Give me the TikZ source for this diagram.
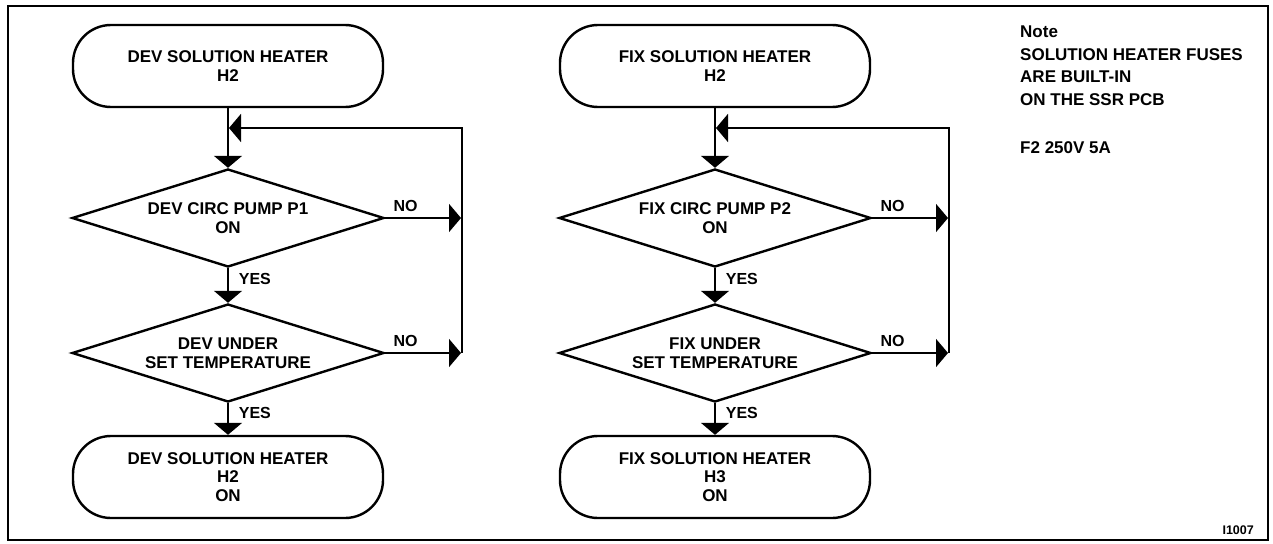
\documentclass[tikz,border=0pt]{standalone}
\usepackage{fontspec}
\setmainfont{Liberation Sans}
\usetikzlibrary{arrows.meta,shapes.geometric}
\begin{document}
\begin{tikzpicture}[x=1pt,y=-1pt,
  txt/.style={font=\fontsize{17}{18.5}\selectfont\bfseries},
  term/.style={draw,line width=2.4pt,rounded corners=38pt,minimum width=310pt,
    minimum height=82pt,align=center,inner sep=0pt,txt},
  dec/.style={draw,diamond,aspect=3.18,line width=2.4pt,minimum width=312pt,
    minimum height=98pt,inner sep=0pt,align=center,txt},
  conn/.style={line width=1.7pt,-{Triangle[length=12pt,width=28pt]}},
  lab/.style={font=\fontsize{16}{16}\selectfont\bfseries,inner sep=0pt}
]
\useasboundingbox (0,0) rectangle (1273,543);
\draw[line width=2pt] (8,6) rectangle (1268,540);

% left column
\node[term] (t1) at (228,66) {DEV SOLUTION HEATER\\H2};
\node[dec]  (d1) at (228,218) {DEV CIRC PUMP P1\\ON};
\node[dec]  (d2) at (228,353) {DEV UNDER\\SET TEMPERATURE};
\node[term] (t2) at (228,477) {DEV SOLUTION HEATER\\H2\\ON};
\coordinate (j1) at (229,128);
\coordinate (lt1) at (462,128);
\coordinate (lb1) at (462,353);
\coordinate (lm1) at (461,218);
\coordinate (le1) at (461,353);

\draw[conn] (t1) -- (d1);
\draw[conn] (d1) -- node[lab,pos=0.3,right=10pt]{YES} (d2);
\draw[conn] (d2) -- node[lab,pos=0.3,right=10pt]{YES} (t2);
\draw[conn] (d1.east) -- node[lab,pos=0.27,above=5pt]{NO} (lm1);
\draw[conn] (d2.east) -- node[lab,pos=0.27,above=5pt]{NO} (le1);
\draw[conn] (lb1) -- (lt1) -- (j1);

% right column
\node[term] (t3) at (715,66) {FIX SOLUTION HEATER\\H2};
\node[dec]  (d3) at (715,218) {FIX CIRC PUMP P2\\ON};
\node[dec]  (d4) at (715,353) {FIX UNDER\\SET TEMPERATURE};
\node[term] (t4) at (715,477) {FIX SOLUTION HEATER\\H3\\ON};
\coordinate (j2) at (716,128);
\coordinate (lt2) at (949,128);
\coordinate (lb2) at (949,353);
\coordinate (lm2) at (948,218);
\coordinate (le2) at (948,353);

\draw[conn] (t3) -- (d3);
\draw[conn] (d3) -- node[lab,pos=0.3,right=10pt]{YES} (d4);
\draw[conn] (d4) -- node[lab,pos=0.3,right=10pt]{YES} (t4);
\draw[conn] (d3.east) -- node[lab,pos=0.27,above=5pt]{NO} (lm2);
\draw[conn] (d4.east) -- node[lab,pos=0.27,above=5pt]{NO} (le2);
\draw[conn] (lb2) -- (lt2) -- (j2);

% note
\node[anchor=north west,align=left,inner sep=0pt,
  font=\fontsize{17}{22.5}\selectfont\bfseries] (note) at (1020,26)
  {Note\\SOLUTION HEATER FUSES\\ARE BUILT-IN\\ON THE SSR PCB};
\node[anchor=west,inner sep=0pt,txt] (fuse) at (1020,148) {F2 250V 5A};
\node[anchor=east,inner sep=0pt,font=\fontsize{12.5}{12.5}\selectfont\bfseries] (ref) at (1254,530) {I1007};
\end{tikzpicture}
\end{document}
